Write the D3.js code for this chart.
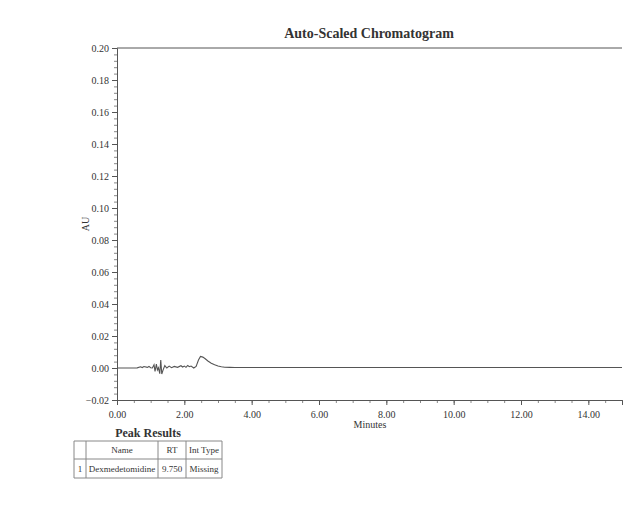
<!DOCTYPE html>
<html>
<head>
<meta charset="utf-8">
<script src="https://cdn.jsdelivr.net/npm/d3@7"></script>
<style>
  body { margin: 0; background: #fff; }
  text { font-family: "Liberation Serif", "DejaVu Serif", serif; fill: #333; }
</style>
</head>
<body>
<svg id="chart" width="625" height="514"></svg>
<script>
// chromatogram trace (minutes, AU)
var times = [0, 0.3, 0.6, 0.7, 0.75, 0.8, 0.9, 0.95, 1.0, 1.05, 1.1, 1.13, 1.17, 1.2, 1.23, 1.27, 1.3, 1.33, 1.37, 1.42, 1.48, 1.55, 1.62, 1.7, 1.8, 1.9, 1.95, 2.0, 2.05, 2.1, 2.15, 2.2, 2.28, 2.35, 2.42, 2.48, 2.55, 2.62, 2.7, 2.8, 2.9, 3.0, 3.1, 3.2, 3.35, 3.5, 3.7, 4.0, 6.0, 8.0, 10.0, 12.0, 14.0, 15.0];
var au    = [0.0000, 0.0000, 0.0001, 0.0008, 0.0003, 0.0009, 0.0004, 0.0010, 0.0002, 0.0000, 0.0020, -0.0022, 0.0025, -0.0012, 0.0002, -0.0035, 0.0050, -0.0038, -0.0012, 0.0015, 0.0000, 0.0012, 0.0002, 0.0010, 0.0004, 0.0014, 0.0006, 0.0012, 0.0004, 0.0016, 0.0008, 0.0012, 0.0000, 0.0010, 0.0050, 0.0072, 0.0068, 0.0058, 0.0044, 0.0030, 0.0020, 0.0012, 0.0008, 0.0005, 0.0004, 0.0003, 0.0003, 0.0003, 0.0003, 0.0003, 0.0003, 0.0003, 0.0003, 0.0003];

var xTicks = [0, 2, 4, 6, 8, 10, 12, 14];
var yTicks = [-0.02, 0.00, 0.02, 0.04, 0.06, 0.08, 0.10, 0.12, 0.14, 0.16, 0.18, 0.20];

// peak results table
var tableHead = ["", "Name", "RT", "Int Type"];
var tableRows = [["1", "Dexmedetomidine", "9.750", "Missing"]];

var svg = d3.select("#chart");
var plotL = 117, plotR = 622, plotT = 48, plotB = 400;

var x = d3.scaleLinear().domain([0, 15]).range([plotL, plotR]);
var y = d3.scaleLinear().domain([-0.02, 0.20]).range([plotB, plotT]);

// minor ticks
var xMinor = d3.range(0, 15.01, 0.5);
var yMinor = d3.range(0, 56).map(function(i) { return -0.02 + i * 0.004; });

svg.append("g")
  .attr("transform", "translate(0," + plotB + ")")
  .call(d3.axisBottom(x).tickValues(xMinor).tickSize(3).tickFormat(""))
  .call(function(g) { g.select(".domain").remove(); g.selectAll("line").attr("stroke", "#888"); });
svg.append("g")
  .attr("transform", "translate(" + plotL + ",0)")
  .call(d3.axisLeft(y).tickValues(yMinor).tickSize(3).tickFormat(""))
  .call(function(g) { g.select(".domain").remove(); g.selectAll("line").attr("stroke", "#888"); });

// major axes
var xAxis = svg.append("g")
  .attr("transform", "translate(0," + plotB + ")")
  .call(d3.axisBottom(x).tickValues(xTicks).tickSizeOuter(0).tickSize(5).tickFormat(d3.format(".2f")));
var yAxis = svg.append("g")
  .attr("transform", "translate(" + plotL + ",0)")
  .call(d3.axisLeft(y).tickValues(yTicks).tickSizeOuter(0).tickSize(5).tickFormat(d3.format(".2f")));

[xAxis, yAxis].forEach(function(g) {
  g.select(".domain").attr("stroke", "#555");
  g.selectAll("line").attr("stroke", "#555");
  g.selectAll("text").attr("font-size", 10).attr("fill", "#444")
    .style("font-family", "'Liberation Serif', serif");
});
xAxis.selectAll("text").attr("dy", "1.0em");

// top frame line
svg.append("line")
  .attr("x1", plotL).attr("x2", plotR)
  .attr("y1", y(0.20)).attr("y2", y(0.20))
  .attr("stroke", "#555");

// trace
var pts = times.map(function(t, i) { return [t, au[i]]; });
svg.append("path")
  .datum(pts)
  .attr("fill", "none")
  .attr("stroke", "#555")
  .attr("stroke-width", 1.1)
  .attr("d", d3.line().x(function(d) { return x(d[0]); }).y(function(d) { return y(d[1]); }));

// titles
svg.append("text").attr("x", 369).attr("y", 38).attr("text-anchor", "middle")
  .attr("font-size", 14).attr("font-weight", "bold").attr("fill", "#222").text("Auto-Scaled Chromatogram");
svg.append("text").attr("x", 370).attr("y", 428).attr("text-anchor", "middle")
  .attr("font-size", 10).text("Minutes");
svg.append("text").attr("transform", "translate(89,224) rotate(-90)").attr("text-anchor", "middle")
  .attr("font-size", 10).text("AU");

// table
svg.append("text").attr("x", 148).attr("y", 437).attr("text-anchor", "middle")
  .attr("font-size", 12).attr("font-weight", "bold").attr("fill", "#222").text("Peak Results");

var colX = [74, 86, 158, 186, 222];
var rowY = [441, 459, 478];
var tbl = svg.append("g");
rowY.forEach(function(ry) {
  tbl.append("line").attr("x1", colX[0]).attr("x2", colX[colX.length - 1])
    .attr("y1", ry).attr("y2", ry).attr("stroke", "#888");
});
colX.forEach(function(cx) {
  tbl.append("line").attr("x1", cx).attr("x2", cx)
    .attr("y1", rowY[0]).attr("y2", rowY[rowY.length - 1]).attr("stroke", "#888");
});
[tableHead].concat(tableRows).forEach(function(row, r) {
  row.forEach(function(cell, c) {
    tbl.append("text")
      .attr("x", (colX[c] + colX[c + 1]) / 2)
      .attr("y", (rowY[r] + rowY[r + 1]) / 2 + 3)
      .attr("text-anchor", "middle")
      .attr("font-size", 9)
      .text(cell);
  });
});
</script>
</body>
</html>
